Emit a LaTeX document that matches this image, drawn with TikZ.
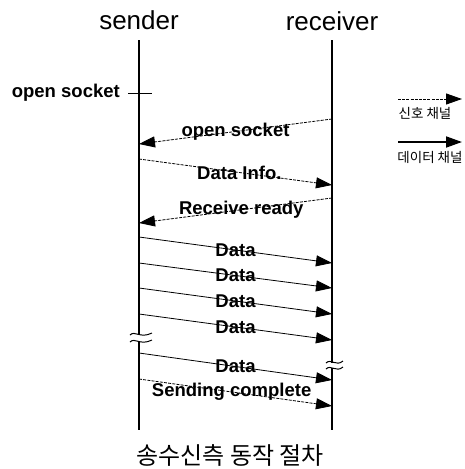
\documentclass[tikz,border=0pt]{standalone}
\usepackage{fontspec}
\setmainfont{Liberation Sans}
\newfontfamily\kr{Noto Sans CJK KR}
\usetikzlibrary{arrows.meta}

\begin{document}
\begin{tikzpicture}[x=1pt, y=-1pt,
	life/.style = {line width=1.6pt},
	msg/.style = {line width=0.8pt, -{Triangle[length=16pt, width=11pt]}},
	sig/.style = {msg, dash pattern=on 3pt off 1.2pt},
	lbl/.style = {font=\bfseries\fontsize{18.5}{18.5}\selectfont, inner sep=0pt},
	head/.style = {font=\fontsize{26}{26}\selectfont, inner sep=0pt},
	tilde/.style = {line width=1pt}]
	\useasboundingbox (0,0) rectangle (464,469);
	% lifelines
	\node[head] (sender) at (139,20) {sender};
	\node[head] (receiver) at (332,21) {receiver};
	\coordinate (s-top) at (139,40);
	\coordinate (s-cut1) at (139,335);
	\coordinate (s-cut2) at (139,341);
	\coordinate (s-end) at (139,430);
	\coordinate (r-top) at (332,40);
	\coordinate (r-cut1) at (332,363);
	\coordinate (r-cut2) at (332,368);
	\coordinate (r-end) at (332,430);
	\draw[life] (s-top) -- (s-cut1);
	\draw[life] (s-cut2) -- (s-end);
	\draw[life] (r-top) -- (r-cut1);
	\draw[life] (r-cut2) -- (r-end);
	% breaks
	\foreach \y in {335, 342} {
		\draw[tilde] (130,\y) .. controls (135,\y-5) and (140,\y+4) .. (152,\y-2);
	}
	\foreach \y in {363, 369} {
		\draw[tilde] (326,\y) .. controls (331,\y-5) and (336,\y+4) .. (343,\y-2);
	}
	% open socket mark
	\node[lbl, anchor=east] (open) at (120,93) {open socket};
	\coordinate (tick-l) at (128,93);
	\coordinate (tick-r) at (152,93);
	\draw[line width=0.8pt] (tick-l) -- (tick-r);
	% messages
	\coordinate (r1) at (332,119);  \coordinate (s1) at (139,144);
	\coordinate (s2) at (139,159);  \coordinate (r2) at (332,185);
	\coordinate (r3) at (332,198);  \coordinate (s3) at (139,223);
	\coordinate (s4) at (139,237);  \coordinate (r4) at (332,263);
	\coordinate (s5) at (139,263);  \coordinate (r5) at (332,288);
	\coordinate (s6) at (139,288);  \coordinate (r6) at (332,314);
	\coordinate (s7) at (139,314);  \coordinate (r7) at (332,340);
	\coordinate (s8) at (139,353);  \coordinate (r8) at (332,380);
	\coordinate (s9) at (139,379);  \coordinate (r9) at (332,406);
	\draw[sig] (r1) -- node[lbl, pos=0.5] {open socket} (s1);
	\draw[sig] (s2) -- node[lbl, pos=0.52] {Data Info.} (r2);
	\draw[sig] (r3) -- node[lbl, pos=0.47] {Receive ready} (s3);
	\draw[msg] (s4) -- node[lbl, pos=0.5] {Data} (r4);
	\draw[msg] (s5) -- node[lbl, pos=0.5] {Data} (r5);
	\draw[msg] (s6) -- node[lbl, pos=0.5] {Data} (r6);
	\draw[msg] (s7) -- node[lbl, pos=0.5] {Data} (r7);
	\draw[msg] (s8) -- node[lbl, pos=0.5] {Data} (r8);
	\draw[sig] (s9) -- node[lbl, pos=0.48] {Sending complete} (r9);
	% legend
	\coordinate (sig-a) at (398,99);
	\coordinate (sig-b) at (462,99);
	\coordinate (dat-a) at (398,142);
	\coordinate (dat-b) at (462,142);
	\draw[sig, line width=1pt] (sig-a) -- (sig-b);
	\draw[msg, line width=1.8pt] (dat-a) -- (dat-b);
	\node[font=\kr\fontsize{13.5}{13.5}\selectfont, inner sep=0pt] (sig-txt) at (425,113) {신호 채널};
	\node[font=\kr\fontsize{13.5}{13.5}\selectfont, inner sep=0pt] (dat-txt) at (430,157) {데이터 채널};
	% caption
	\node[font=\kr\fontsize{24}{24}\selectfont, inner sep=0pt] (caption) at (230,455) {송수신측 동작 절차};
\end{tikzpicture}
\end{document}
